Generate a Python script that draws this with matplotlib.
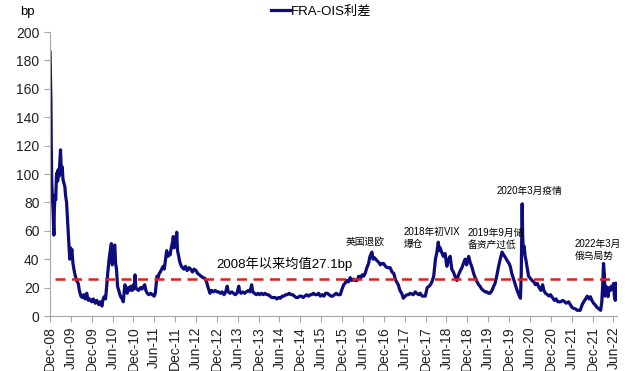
import numpy as np
import pandas as pd
import matplotlib
matplotlib.use("Agg")
import matplotlib.pyplot as plt
import matplotlib.dates as mdates

plt.rcParams['font.family'] = ['Liberation Sans', 'Noto Sans CJK SC', 'DejaVu Sans']
plt.rcParams['axes.unicode_minus'] = False

# FRA-OIS spread (bp)
dates = [
    "2008-12-01", "2008-12-03", "2008-12-06", "2008-12-09", "2008-12-12", "2008-12-16",
    "2008-12-20", "2008-12-24", "2008-12-29", "2009-01-04", "2009-01-08", "2009-01-14",
    "2009-01-20", "2009-01-26", "2009-02-01", "2009-02-06", "2009-02-10", "2009-02-16",
    "2009-02-22", "2009-03-03", "2009-03-07", "2009-03-12", "2009-03-18", "2009-03-25",
    "2009-04-03", "2009-04-10", "2009-04-16", "2009-04-25", "2009-05-03", "2009-05-10",
    "2009-05-15", "2009-05-20", "2009-05-23", "2009-05-28", "2009-06-03", "2009-06-10",
    "2009-06-20", "2009-06-28", "2009-07-08", "2009-07-18", "2009-07-28", "2009-08-05",
    "2009-08-15", "2009-08-28", "2009-09-10", "2009-09-22", "2009-10-05", "2009-10-18",
    "2009-11-01", "2009-11-15", "2009-12-01", "2009-12-15", "2010-01-01", "2010-01-15",
    "2010-02-01", "2010-02-12", "2010-03-01", "2010-03-08", "2010-03-20", "2010-04-01",
    "2010-04-10", "2010-04-20", "2010-05-01", "2010-05-10", "2010-05-22", "2010-05-30",
    "2010-06-06", "2010-06-13", "2010-06-21", "2010-06-28", "2010-07-06", "2010-07-15",
    "2010-07-25", "2010-08-05", "2010-08-15", "2010-08-25", "2010-09-03", "2010-09-10",
    "2010-09-18", "2010-09-28", "2010-10-08", "2010-10-18", "2010-10-28", "2010-11-08",
    "2010-11-20", "2010-12-01", "2010-12-08", "2010-12-15", "2010-12-22", "2011-01-01",
    "2011-01-15", "2011-02-01", "2011-02-15", "2011-03-01", "2011-03-10", "2011-03-20",
    "2011-04-01", "2011-04-15", "2011-05-01", "2011-05-15", "2011-06-01", "2011-06-10",
    "2011-06-18", "2011-06-25", "2011-07-05", "2011-07-15", "2011-07-25", "2011-08-05",
    "2011-08-18", "2011-08-28", "2011-09-08", "2011-09-18", "2011-09-28", "2011-10-08",
    "2011-10-18", "2011-10-28", "2011-11-08", "2011-11-15", "2011-11-22", "2011-12-01",
    "2011-12-08", "2011-12-15", "2011-12-22", "2011-12-30", "2012-01-08", "2012-01-15",
    "2012-01-25", "2012-02-05", "2012-02-15", "2012-03-01", "2012-03-15", "2012-04-01",
    "2012-04-15", "2012-05-01", "2012-05-15", "2012-06-01", "2012-06-15", "2012-07-01",
    "2012-07-15", "2012-08-01", "2012-08-18", "2012-09-01", "2012-09-15", "2012-10-01",
    "2012-10-15", "2012-11-01", "2012-11-15", "2012-12-01", "2012-12-15", "2013-01-01",
    "2013-01-15", "2013-02-01", "2013-02-15", "2013-03-01", "2013-03-10", "2013-03-25",
    "2013-04-10", "2013-04-25", "2013-05-10", "2013-05-25", "2013-06-10", "2013-06-18",
    "2013-07-01", "2013-07-15", "2013-08-01", "2013-08-15", "2013-09-01", "2013-09-15",
    "2013-10-01", "2013-10-10", "2013-10-25", "2013-11-10", "2013-11-25", "2013-12-10",
    "2013-12-25", "2014-01-10", "2014-01-25", "2014-02-10", "2014-02-25", "2014-03-10",
    "2014-03-25", "2014-04-10", "2014-04-25", "2014-05-10", "2014-05-25", "2014-06-10",
    "2014-06-25", "2014-07-10", "2014-07-25", "2014-08-10", "2014-08-25", "2014-09-10",
    "2014-09-25", "2014-10-10", "2014-10-25", "2014-11-10", "2014-11-25", "2014-12-10",
    "2014-12-25", "2015-01-10", "2015-01-25", "2015-02-10", "2015-02-25", "2015-03-10",
    "2015-03-25", "2015-04-10", "2015-04-25", "2015-05-10", "2015-05-25", "2015-06-10",
    "2015-06-25", "2015-07-10", "2015-07-25", "2015-08-10", "2015-08-25", "2015-09-10",
    "2015-09-25", "2015-10-10", "2015-10-25", "2015-11-15", "2015-12-01", "2015-12-15",
    "2015-12-27", "2016-01-10", "2016-01-25", "2016-02-10", "2016-02-25", "2016-03-10",
    "2016-03-25", "2016-04-10", "2016-04-25", "2016-05-10", "2016-05-25", "2016-06-06",
    "2016-06-20", "2016-07-05", "2016-07-20", "2016-08-01", "2016-08-18", "2016-08-28",
    "2016-09-10", "2016-10-01", "2016-10-15", "2016-11-01", "2016-11-15", "2016-11-28",
    "2016-12-15", "2017-01-01", "2017-01-25", "2017-02-10", "2017-02-25", "2017-03-15",
    "2017-04-06", "2017-04-20", "2017-05-06", "2017-05-20", "2017-06-06", "2017-06-20",
    "2017-07-05", "2017-07-20", "2017-08-15", "2017-09-01", "2017-09-15", "2017-10-01",
    "2017-10-15", "2017-11-01", "2017-11-28", "2017-12-15", "2018-01-01", "2018-01-12",
    "2018-01-25", "2018-02-10", "2018-02-25", "2018-03-10", "2018-03-22", "2018-03-30",
    "2018-04-08", "2018-04-20", "2018-05-05", "2018-05-20", "2018-06-05", "2018-06-20",
    "2018-07-04", "2018-07-18", "2018-08-01", "2018-08-15", "2018-09-01", "2018-09-15",
    "2018-10-01", "2018-10-15", "2018-10-28", "2018-11-12", "2018-11-25", "2018-12-13",
    "2018-12-25", "2019-01-12", "2019-01-25", "2019-02-10", "2019-02-25", "2019-03-10",
    "2019-03-22", "2019-04-06", "2019-04-20", "2019-05-06", "2019-05-20", "2019-06-05",
    "2019-06-18", "2019-07-05", "2019-07-20", "2019-08-01", "2019-08-15", "2019-09-01",
    "2019-09-15", "2019-10-01", "2019-10-15", "2019-11-01", "2019-11-15", "2019-12-01",
    "2019-12-12", "2019-12-25", "2020-01-10", "2020-01-25", "2020-02-10", "2020-02-25",
    "2020-03-10", "2020-03-17", "2020-03-25", "2020-03-30", "2020-04-06", "2020-04-12",
    "2020-04-20", "2020-04-28", "2020-05-06", "2020-05-20", "2020-06-04", "2020-06-20",
    "2020-07-05", "2020-07-20", "2020-08-04", "2020-08-20", "2020-09-05", "2020-09-20",
    "2020-10-01", "2020-10-15", "2020-11-01", "2020-11-15", "2020-11-28", "2020-12-15",
    "2021-01-01", "2021-01-15", "2021-02-01", "2021-02-25", "2021-03-15", "2021-04-01",
    "2021-04-15", "2021-05-06", "2021-05-20", "2021-06-05", "2021-06-18", "2021-07-05",
    "2021-07-20", "2021-08-15", "2021-09-01", "2021-09-15", "2021-10-01", "2021-10-15",
    "2021-11-01", "2021-11-12", "2021-11-25", "2021-12-10", "2021-12-25", "2022-01-10",
    "2022-01-25", "2022-02-10", "2022-02-20", "2022-02-28", "2022-03-07", "2022-03-14",
    "2022-03-20", "2022-03-28", "2022-04-06", "2022-04-15", "2022-04-25", "2022-05-05",
    "2022-05-15", "2022-05-25", "2022-06-03", "2022-06-10", "2022-06-18", "2022-06-24",
    "2022-06-28",
]
spread = [
    186, 178, 165, 152, 120, 95,
    88, 80, 72, 57, 75, 85,
    82, 98, 101, 95, 103, 98,
    104, 117, 108, 100, 105, 96,
    93, 91, 85, 80, 68, 58,
    51, 44, 40, 48, 42, 47,
    37, 33, 29, 26, 24, 23,
    18, 14, 13, 15, 12, 16,
    11, 12, 10, 12, 9, 11,
    8, 10, 7, 11, 13.6, 12,
    20, 30, 39, 45, 51, 36,
    42, 48, 50, 37, 33, 21,
    18, 15, 13, 12, 10, 16,
    22, 19, 16, 20, 18, 21,
    18, 22, 19, 29, 20, 19,
    18, 20, 19, 21, 22, 18,
    16, 15, 16, 15, 14, 16,
    22, 28, 27, 30, 31, 33,
    35, 33, 40, 46, 42, 44,
    43, 48, 52, 56, 48, 53,
    50, 59, 46, 43, 39, 37,
    35, 34, 33, 35, 32, 34,
    33, 31, 33, 32, 30, 29,
    28, 27, 26.5, 24, 20, 16,
    18, 17, 18, 17, 17, 16,
    17, 15, 17, 21, 17, 16,
    17, 16, 15, 16, 21, 17,
    16, 17, 16, 17, 18, 17,
    22, 17, 16, 15, 16, 15,
    16, 15, 16, 15, 15, 14,
    13, 13, 13, 12, 13, 12.5,
    14, 14, 15, 15, 16, 15,
    15, 14, 13, 13, 14, 14,
    13, 14, 15, 14, 15, 15,
    16, 15, 15, 16, 14, 15,
    14, 16, 16, 15, 14, 14,
    15, 16, 15, 15, 19, 22,
    23, 25, 24, 27, 25, 26,
    25, 25, 28, 27, 29, 28,
    30, 34, 37, 42, 45, 40,
    41, 39, 38, 36, 37, 37,
    35, 34, 34, 31, 30, 25,
    22, 18, 16, 12.5, 14, 15,
    15, 16, 15, 17, 16, 15,
    16, 14, 14, 20, 21, 22,
    24, 28, 40, 45, 52, 46,
    48, 45, 42, 44, 35, 40,
    42, 33, 31, 28, 25, 29,
    32, 34, 37, 40, 36, 42,
    38, 34, 30, 26.5, 24, 22,
    21, 19, 18, 17, 17, 16,
    16, 18, 21, 23, 28, 35,
    40, 45, 43, 41, 39, 37,
    35, 30, 26, 22, 18, 15,
    12.5, 30, 79, 55, 44, 49,
    42, 39, 35, 28, 26.5, 25,
    24, 22, 23, 20, 18, 22,
    18, 16, 15, 14, 15, 13,
    11, 12, 10, 10, 11, 10,
    9, 10, 8, 6, 5.4, 5,
    4, 4, 8, 10, 12, 14,
    12, 13.6, 11, 9, 7.7, 6,
    5, 4, 10, 22, 37, 30,
    14, 21, 18, 13.6, 20, 18,
    21, 19, 23, 14, 11, 17,
    23,
]

mean_label = "2008年以来均值27.1bp"
mean_value = 25.8
mean_span = ["2009-01-10", "2022-06-26"]

events = ["英国退欧", "2018年初VIX\n爆仓", "2019年9月储\n备资产过低", "2020年3月疫情", "2022年3月\n俄乌局势"]
event_pos = [(0.522, 0.262), (0.623, 0.276), (0.737, 0.273), (0.788, 0.441), (0.926, 0.233)]

x = pd.to_datetime(dates)
y = np.array(spread)

fig = plt.figure(figsize=(6.4, 3.71), dpi=100)
ax = fig.add_axes([50 / 640, 1 - 316 / 371, 567 / 640, 284 / 371])

ax.plot(x, y, color='#0c0c7e', lw=2.3, label='FRA-OIS利差', solid_joinstyle='round')
ax.plot(pd.to_datetime(mean_span), [mean_value, mean_value], color='#e02020', lw=1.8, dashes=(4, 2.6))

ax.set_ylim(0, 200)
ax.set_yticks(np.arange(0, 201, 20))
ax.set_xlim(pd.Timestamp("2008-12-01"), pd.Timestamp("2022-07-03"))
ax.xaxis.set_major_locator(mdates.MonthLocator(bymonth=[6, 12]))
ax.xaxis.set_major_formatter(mdates.DateFormatter('%b-%y'))
plt.setp(ax.get_xticklabels(), rotation=90)

for s in ['top', 'right']:
    ax.spines[s].set_visible(False)
for s in ['left', 'bottom']:
    ax.spines[s].set_color('#a6a6a6')
ax.tick_params(axis='both', colors='#a6a6a6', labelcolor='#222222', labelsize=10, length=4, direction='out')

ax.text(0.293, 0.183, mean_label, transform=ax.transAxes, fontsize=9.5, va='center', ha='left')
for txt, (px, py) in zip(events, event_pos):
    ax.text(px, py, txt, transform=ax.transAxes, fontsize=7, va='center', ha='left', linespacing=1.25)

fig.text(27 / 640, 1 - 12 / 371, 'bp', fontsize=9.5, ha='center', va='center')
fig.legend(loc='center', bbox_to_anchor=(0.502, 0.968), frameon=False, fontsize=9.5,
           handlelength=1.4, handletextpad=0.1, borderpad=0)

fig.savefig('out.png', dpi=100)
